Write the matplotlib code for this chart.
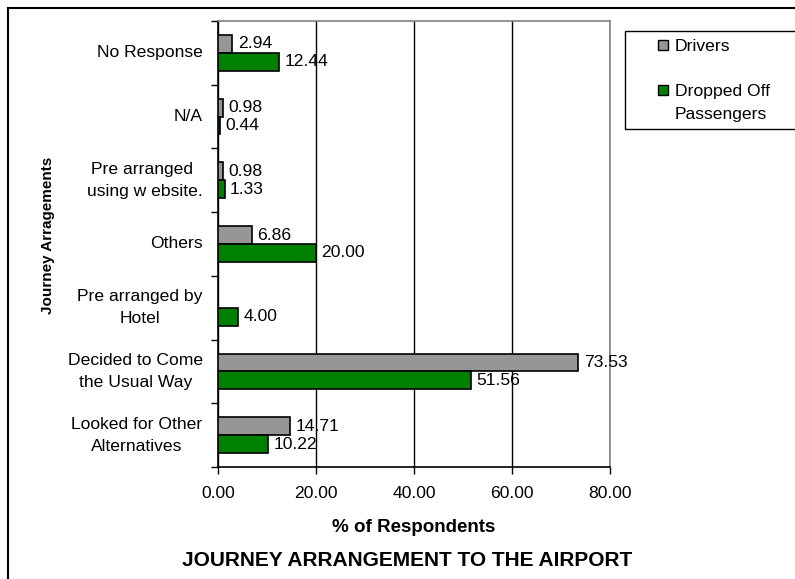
import numpy as np
import matplotlib.pyplot as plt
from matplotlib.patches import Rectangle

plt.rcParams['font.family'] = ['Liberation Sans', 'DejaVu Sans']

categories = ['No Response', 'N/A', 'Pre arranged \nusing w ebsite.', 'Others',
              'Pre arranged by\nHotel', 'Decided to Come\nthe Usual Way',
              'Looked for Other\nAlternatives']
drivers = [2.94, 0.98, 0.98, 6.86, np.nan, 73.53, 14.71]
passengers = [12.44, 0.44, 1.33, 20.00, 4.00, 51.56, 10.22]
xticks = [0, 20, 40, 60, 80]
series = ['Drivers', 'Dropped Off\nPassengers']
colors = ['#969696', '#008000']

W, H = 795, 579
fs = 12.6
fig = plt.figure(figsize=(W / 100, H / 100), dpi=100)
ax = fig.add_axes([218 / W, 1 - 467 / H, (610 - 218) / W, (467 - 21) / H])

y = np.arange(len(categories))
h = 0.28
ax.barh(y - h / 2, np.nan_to_num(drivers), height=h, color=colors[0],
        edgecolor='black', linewidth=1.2, zorder=3)
ax.barh(y + h / 2, passengers, height=h, color=colors[1],
        edgecolor='black', linewidth=1.2, zorder=3)

for yi, v in zip(y - h / 2, drivers):
    if not np.isnan(v):
        ax.annotate(f'{v:.2f}', (v, yi), xytext=(4, 0), textcoords='offset points',
                    va='center', ha='left', fontsize=fs, zorder=4)
for yi, v in zip(y + h / 2, passengers):
    ax.annotate(f'{v:.2f}', (v, yi), xytext=(4, 0), textcoords='offset points',
                va='center', ha='left', fontsize=fs, zorder=4)

ax.set_xlim(0, 80)
ax.set_ylim(len(categories) - 0.5, -0.5)
ax.set_xticks(xticks)
ax.set_xticklabels([f'{t:.2f}' for t in xticks], fontsize=fs)
ax.tick_params(axis='x', direction='out', length=5, width=1, pad=9)

ax.set_yticks(y)
ax.set_yticklabels(categories, fontsize=fs, multialignment='center', linespacing=1.6)
ax.tick_params(axis='y', which='major', length=0, pad=11)
ax.set_yticks(np.arange(len(categories) + 1) - 0.5, minor=True)
ax.tick_params(axis='y', which='minor', direction='out', length=5, width=1)
for lbl in ax.get_yticklabels():
    lbl.set_va('center')

ax.xaxis.grid(True, color='black', linewidth=1.0, zorder=0)
for s in ['top', 'right']:
    ax.spines[s].set_color('#808080')
    ax.spines[s].set_linewidth(1.2)
for s in ['left', 'bottom']:
    ax.spines[s].set_color('black')
    ax.spines[s].set_linewidth(1.2)

fig.text(414 / W, 1 - 528 / H, '% of Respondents', ha='center', va='center',
         fontsize=13.5, fontweight='bold')
fig.text(48 / W, 1 - 235 / H, 'Journey Arragements', ha='center', va='center',
         rotation=90, fontsize=11, fontweight='bold')
fig.text(407 / W, 1 - 561 / H, 'JOURNEY ARRANGEMENT TO THE AIRPORT',
         ha='center', va='center', fontsize=15, fontweight='bold')

# outer border of the figure
fig.patches.append(Rectangle((8 / W, -0.05), 1.1, 1 - 8 / H + 0.05,
                             transform=fig.transFigure, fill=False,
                             edgecolor='black', linewidth=1.5))

# legend box with its two entries
fig.patches.append(Rectangle((625 / W, 1 - 129 / H), 0.3, (129 - 31) / H,
                             transform=fig.transFigure, fill=False,
                             edgecolor='black', linewidth=1.0))
for i, (name, c) in enumerate(zip(series, colors)):
    ytop = 40 + i * 45
    fig.patches.append(Rectangle((658 / W, 1 - (ytop + 10) / H), 10 / W, 10 / H,
                                 transform=fig.transFigure, facecolor=c,
                                 edgecolor='black', linewidth=1.0))
    first, *rest = name.split('\n')
    fig.text(675 / W, 1 - (ytop + 11) / H, first, ha='left', va='baseline',
             fontsize=fs)
    for j, line in enumerate(rest, start=1):
        fig.text(675 / W, 1 - (ytop + 11 + 23.5 * j) / H, line, ha='left',
                 va='baseline', fontsize=fs)

fig.savefig('out.png', dpi=100)
